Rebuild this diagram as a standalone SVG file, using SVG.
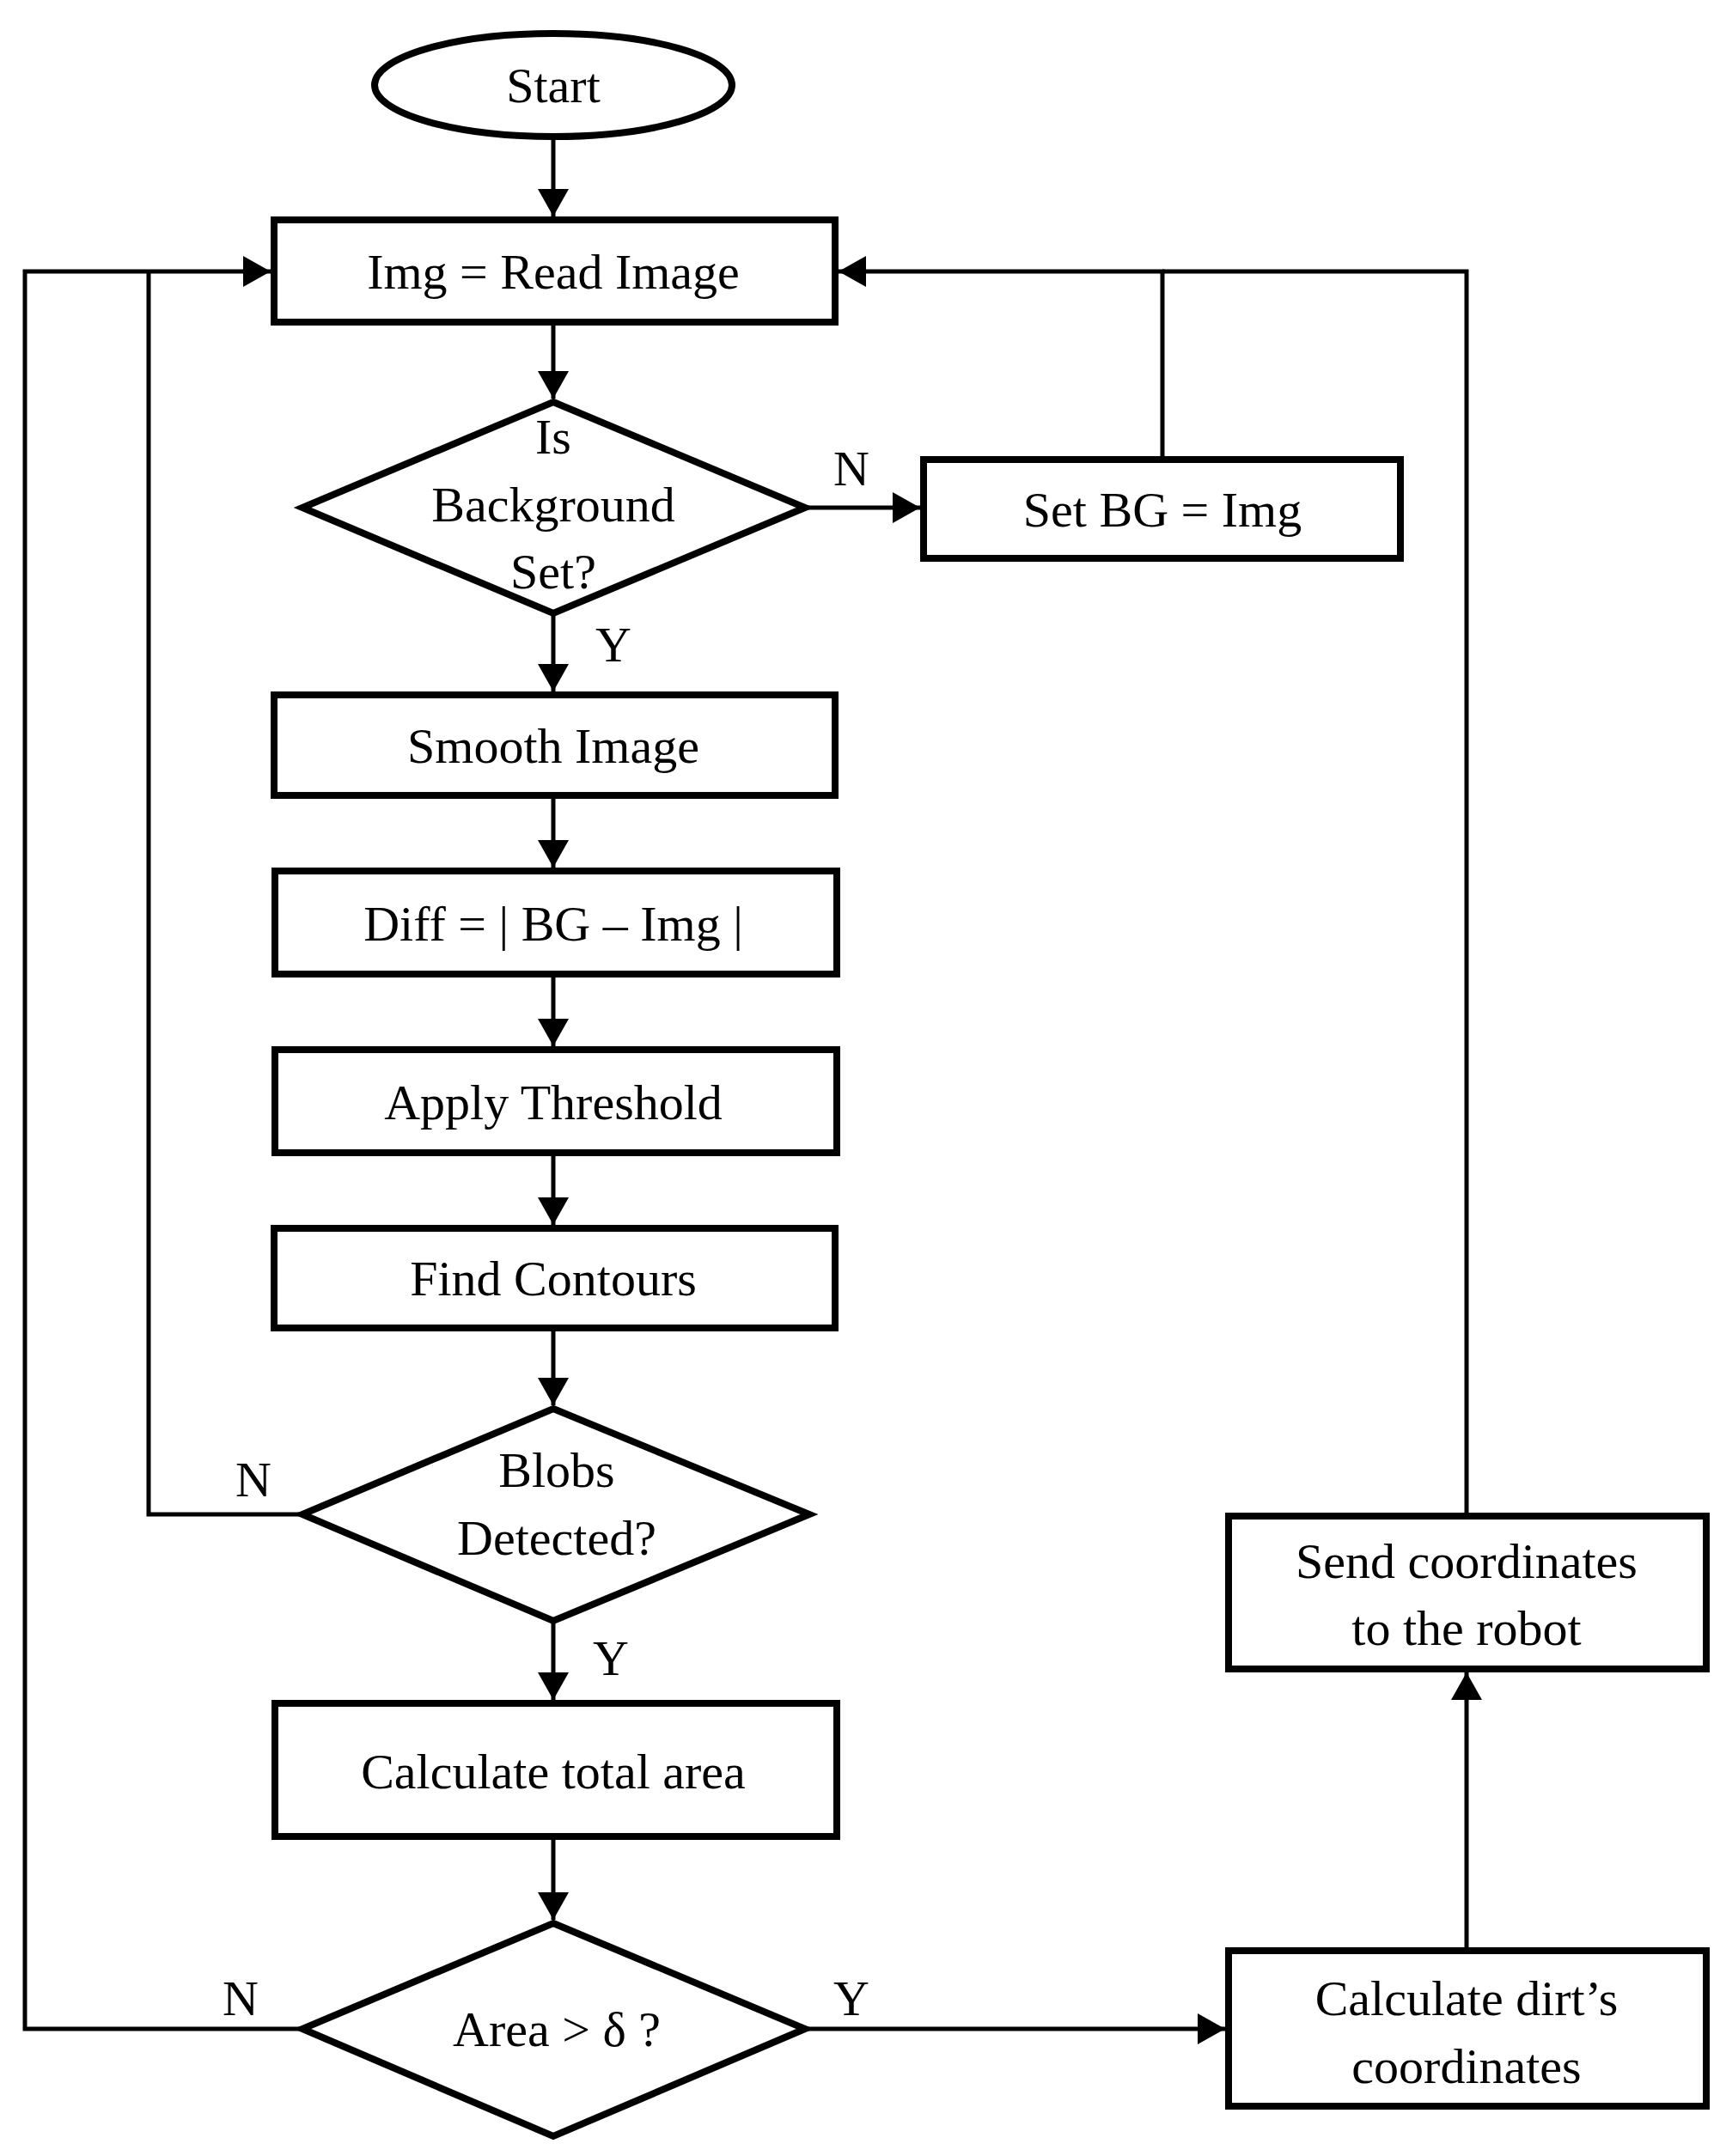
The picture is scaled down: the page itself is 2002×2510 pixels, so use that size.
<svg xmlns="http://www.w3.org/2000/svg" width="2002" height="2510" viewBox="0 0 2002 2510">
<style>
.n{fill:#fff;stroke:#000;stroke-width:8}
.c{fill:none;stroke:#000;stroke-width:5}
text{font-family:"Liberation Serif","Times New Roman",serif;font-size:58px;text-anchor:middle;fill:#000}
</style>
<defs>
<marker id="a" markerUnits="userSpaceOnUse" markerWidth="32" markerHeight="36" refX="32" refY="18" orient="auto"><path d="M0,0L32,18L0,36Z" fill="#000"/></marker>
</defs>
<g id="connectors">
<path class="c" d="M644,160V252" marker-end="url(#a)"/>
<path class="c" d="M644,375V464" marker-end="url(#a)"/>
<path class="c" d="M937,591H1071" marker-end="url(#a)"/>
<path class="c" d="M1353,535V316H976" marker-end="url(#a)"/>
<path class="c" d="M1707,1765V316H1353"/>
<path class="c" d="M644,714V805" marker-end="url(#a)"/>
<path class="c" d="M644,926V1010" marker-end="url(#a)"/>
<path class="c" d="M644,1134V1218" marker-end="url(#a)"/>
<path class="c" d="M644,1342V1426" marker-end="url(#a)"/>
<path class="c" d="M644,1546V1636" marker-end="url(#a)"/>
<path class="c" d="M352,1763H173V316"/>
<path class="c" d="M644,1887V1979" marker-end="url(#a)"/>
<path class="c" d="M644,2138V2235" marker-end="url(#a)"/>
<path class="c" d="M352,2362H29V316H315" marker-end="url(#a)"/>
<path class="c" d="M937,2362H1426" marker-end="url(#a)"/>
<path class="c" d="M1707,2271V1947" marker-end="url(#a)"/>
<text x="991" y="565">N</text>
<text x="714" y="770">Y</text>
<text x="295" y="1742">N</text>
<text x="711" y="1950">Y</text>
<text x="280" y="2346">N</text>
<text x="991" y="2346">Y</text>
</g>
<g id="start"><ellipse class="n" cx="644" cy="99" rx="208" ry="60"/><text x="644" y="119">Start</text></g>
<g id="read"><rect class="n" x="319" y="256" width="653" height="119"/><text x="644" y="336">Img = Read Image</text></g>
<g id="bgset"><path class="n" d="M644,468L937,591L644,714L352,591Z"/><text x="644" y="528">Is</text><text x="644" y="607">Background</text><text x="644" y="685">Set?</text></g>
<g id="setbg"><rect class="n" x="1075" y="535" width="555" height="115"/><text x="1353" y="613">Set BG = Img</text></g>
<g id="smooth"><rect class="n" x="319" y="809" width="653" height="117"/><text x="644" y="888">Smooth Image</text></g>
<g id="diff"><rect class="n" x="320" y="1014" width="654" height="120"/><text x="644" y="1095">Diff = | BG – Img |</text></g>
<g id="thresh"><rect class="n" x="320" y="1222" width="654" height="120"/><text x="644" y="1303">Apply Threshold</text></g>
<g id="contours"><rect class="n" x="319" y="1430" width="653" height="116"/><text x="644" y="1508">Find Contours</text></g>
<g id="blobs"><path class="n" d="M644,1640L942,1763L644,1887L352,1763Z"/><text x="648" y="1731">Blobs</text><text x="648" y="1810">Detected?</text></g>
<g id="total"><rect class="n" x="320" y="1983" width="654" height="155"/><text x="644" y="2082">Calculate total area</text></g>
<g id="area"><path class="n" d="M644,2239L937,2362L644,2487L352,2362Z"/><text x="648" y="2382">Area &gt; δ ?</text></g>
<g id="dirt"><rect class="n" x="1430" y="2271" width="556" height="181"/><text x="1707" y="2346">Calculate dirt’s</text><text x="1707" y="2425">coordinates</text></g>
<g id="send"><rect class="n" x="1430" y="1765" width="556" height="178"/><text x="1707" y="1837">Send coordinates</text><text x="1707" y="1915">to the robot</text></g>
</svg>
